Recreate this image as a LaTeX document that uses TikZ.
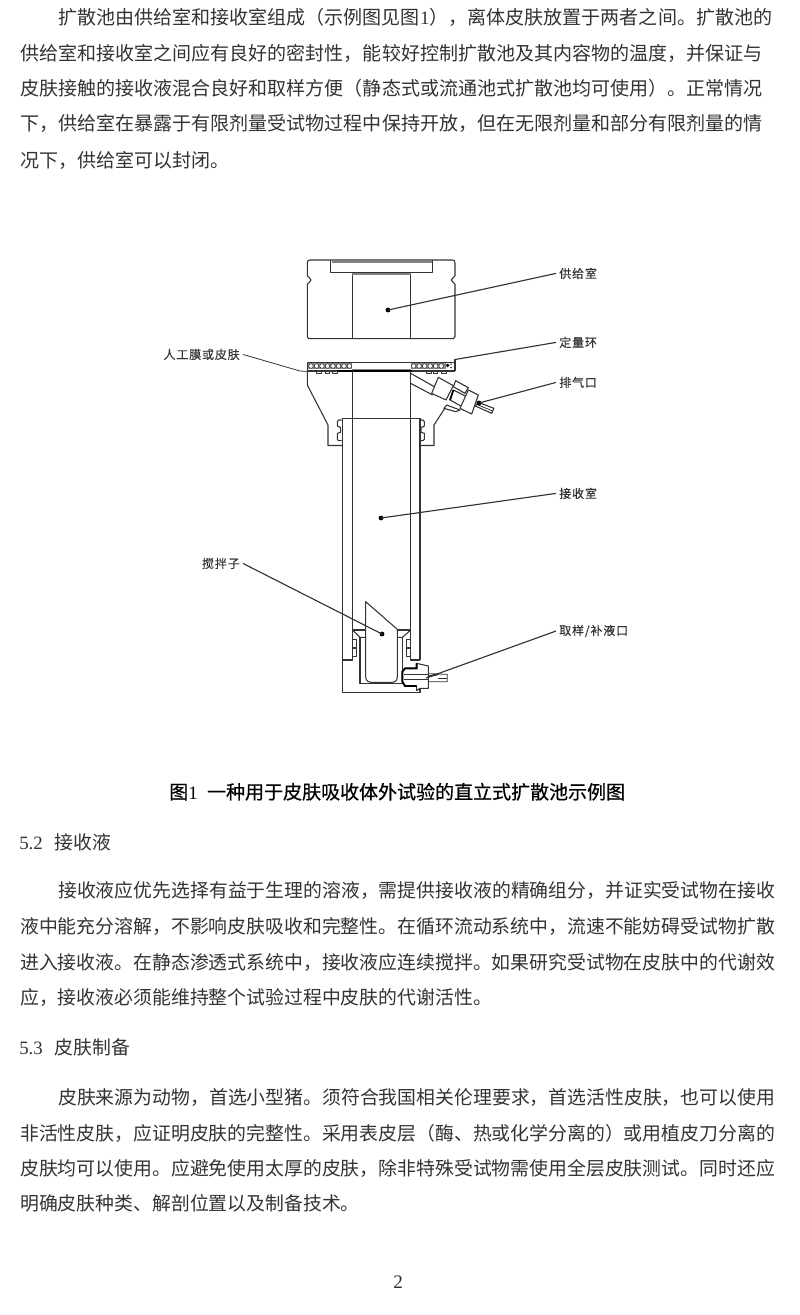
\documentclass[tikz,border=0pt]{standalone}
\usepackage{fontspec}
\setmainfont{Noto Sans CJK SC}
\newfontfamily\latn{Liberation Serif}
\newfontfamily\capf[RawFeature={embolden=0.6}]{Noto Sans CJK SC}
\newfontfamily\lab[LetterSpace=7,RawFeature={embolden=0.25}]{Noto Sans CJK SC}
\definecolor{ink}{gray}{0.2}
\definecolor{drw}{gray}{0.2}
\tikzset{
  bodytxt/.style={anchor=base west,inner sep=0pt,text=ink,font=\fontsize{14.15pt}{16pt}\selectfont},
  firsttxt/.style={anchor=base west,inner sep=0pt,text=ink,font=\fontsize{14.28pt}{16pt}\selectfont},
  captxt/.style={anchor=base west,inner sep=0pt,text=black,font=\capf\fontsize{14.25pt}{16pt}\selectfont},
  labr/.style={anchor=base west,inner xsep=2.25pt,inner ysep=0pt,text=ink,font=\lab\fontsize{9pt}{10pt}\selectfont},
  labl/.style={anchor=base east,inner xsep=2.25pt,inner ysep=0pt,text=ink,font=\lab\fontsize{9pt}{10pt}\selectfont},
  part/.style={draw=drw,line width=0.8pt,line join=round},
  thinpart/.style={draw=drw,line width=0.6pt,line join=round},
  leader/.style={draw=drw,line width=0.85pt},
  tipdot/.style={circle,fill=black,inner sep=0pt,minimum size=3.6pt},
  Zone/.style={shift={(280,240)},x=0.25pt,y=-0.25pt},
  Ztwo/.style={shift={(290,340)},x=0.25pt,y=-0.25pt},
  Zthr/.style={shift={(320,580)},x=0.25pt,y=-0.25pt},
  Zfou/.style={shift={(320,400)},x=0.25pt,y=-0.25pt}
}
\begin{document}
\begin{tikzpicture}[x=0.75pt,y=-0.75pt]
\path[use as bounding box,fill=white] (0,0) rectangle (800,1315);
% --- body text ---
\node[firsttxt] (p1) at (58,24.5) {扩散池由供给室和接收室组成（示例图见图{\latn 1}），离体皮肤放置于两者之间。扩散池的};
\node[firsttxt] (p2) at (20,60) {供给室和接收室之间应有良好的密封性，能较好控制扩散池及其内容物的温度，并保证与};
\node[firsttxt] (p3) at (20,95) {皮肤接触的接收液混合良好和取样方便（静态式或流通池式扩散池均可使用）。正常情况};
\node[firsttxt] (p4) at (20,130) {下，供给室在暴露于有限剂量受试物过程中保持开放，但在无限剂量和部分有限剂量的情};
\node[firsttxt] (p5) at (20,167) {况下，供给室可以封闭。};
\node[captxt] (cap) at (169,799) {图{\latn 1}\hspace{7pt}一种用于皮肤吸收体外试验的直立式扩散池示例图};
\node[bodytxt] (h2) at (19,849) {{\latn 5.2}\hspace{9pt}接收液};
\node[bodytxt] (q1) at (58,897) {接收液应优先选择有益于生理的溶液，需提供接收液的精确组分，并证实受试物在接收};
\node[bodytxt] (q2) at (20,933.5) {液中能充分溶解，不影响皮肤吸收和完整性。在循环流动系统中，流速不能妨碍受试物扩散};
\node[bodytxt] (q3) at (20,969.5) {进入接收液。在静态渗透式系统中，接收液应连续搅拌。如果研究受试物在皮肤中的代谢效};
\node[bodytxt] (q4) at (20,1004) {应，接收液必须能维持整个试验过程中皮肤的代谢活性。};
\node[bodytxt] (h3) at (19,1054) {{\latn 5.3}\hspace{9pt}皮肤制备};
\node[bodytxt] (r1) at (58,1104) {皮肤来源为动物，首选小型猪。须符合我国相关伦理要求，首选活性皮肤，也可以使用};
\node[bodytxt] (r2) at (20,1140) {非活性皮肤，应证明皮肤的完整性。采用表皮层（酶、热或化学分离的）或用植皮刀分离的};
\node[bodytxt] (r3) at (20,1175) {皮肤均可以使用。应避免使用太厚的皮肤，除非特殊受试物需使用全层皮肤测试。同时还应};
\node[bodytxt] (r4) at (20,1210) {明确皮肤种类、解剖位置以及制备技术。};
\node[bodytxt,font=\latn\fontsize{14.4pt}{16pt}\selectfont] (pg) at (393,1288) {2};
% --- donor chamber ---
\begin{scope}[Zone]
\draw[part] (90,60) .. controls (84,60) and (82,62) .. (82,70) -- (82,108) .. controls (82,112) and (93,112) .. (93,120) .. controls (93,128) and (82,128) .. (82,132) -- (82,290) -- (86,296) -- (520,296) -- (525,290) -- (525,132) .. controls (525,128) and (514,128) .. (514,120) .. controls (514,112) and (525,112) .. (525,108) -- (525,70) .. controls (525,62) and (523,60) .. (517,60) -- cycle;
\draw[part] (152,60) -- (152,98) -- (458,98) -- (458,60);
\draw[draw=gray,line width=0.9pt] (155,66) -- (455,66);
\draw[part] (217,99) -- (217,295) (392,99) -- (392,295);
\draw[draw=gray,line width=1.2pt] (217,102) -- (392,102);
% metering ring
\fill[gray!90] (84,368) rectangle (215,388);
\fill[gray!90] (392,368) rectangle (498,388);
\foreach \i in {0,...,7} {\draw[black!80,fill=white,line width=0.45pt] ({93+\i*16.5},378) circle (7);}
\foreach \i in {0,...,5} {\draw[black!80,fill=white,line width=0.45pt] ({401+\i*16.5},378) circle (7);}
\draw[part] (82,367) -- (525,367) (525,358) -- (525,393);
\draw[part] (82,367) -- (82,393) -- (525,393);
\draw[part,draw=gray] (217,388) -- (392,388);
\draw[draw=black,line width=1.7pt] (170,392) -- (395,392);
\fill[black] (503,376) circle (5.5);
\fill[black!70] (510,371) rectangle (516,374) (510,381) rectangle (516,384);
\foreach \a in {110,135,158,440,460,485} {\draw[thinpart] (\a,393) rectangle ++(13,7);}
\end{scope}
% --- receptor body ---
\draw[part] (307.3,371) -- (307.3,385) -- (328,425) -- (328,445.5) -- (342,445.5);
\draw[part] (445,408) -- (434,425) -- (434,445.5) -- (420,445.5);
\draw[part] (352.5,371) -- (352.5,660) -- (342.3,660);
\draw[part] (410.7,371) -- (410.7,660) -- (420,660);
\draw[part] (342.3,418.3) -- (342.3,692.7) -- (420,692.7) -- (420,689);
\draw[part] (420,418.3) -- (420,660);
\draw[part] (342.3,418.3) -- (420,418.3);
\begin{scope}[Zfou]
\draw[part] (65,60) -- (56,60) -- (52,65) -- (52,78) -- (62,83) -- (62,97) -- (52,100) -- (52,118) -- (56,122) -- (65,122);
\draw[part] (300,60) -- (309,60) -- (313,65) -- (313,78) -- (303,83) -- (303,97) -- (313,100) -- (313,118) -- (309,122) -- (300,122);
\end{scope}
% --- stir bar, cup and sampling port ---
\begin{scope}[Zthr]
\draw[part] (137,65) -- (232,148) -- (232,290) .. controls (232,302) and (225,307) .. (215,307) -- (155,307) .. controls (145,307) and (137,302) .. (137,290) -- cycle;
\draw[part] (98,150) -- (137,150) (232,150) -- (272,150);
\draw[part] (98,150) -- (120,172) -- (137,172) (272,150) -- (247,172) -- (232,172);
\draw[part] (120,172) -- (120,310) -- (247,310) -- (247,172);
\draw[thinpart] (98,178) -- (110,178) -- (110,203) -- (98,203) (98,206) -- (110,206) -- (110,228) -- (98,228);
\draw[thinpart] (272,178) -- (258,178) -- (258,203) -- (272,203) (272,206) -- (258,206) -- (258,228) -- (272,228);
\draw[part,fill=white] (255,265) -- (290,265) -- (290,250) -- (325,258) -- (325,325) -- (300,325) -- (290,332) -- (290,318) -- (255,318) -- (247,305) -- (247,275) -- cycle;
\draw[draw=black,line width=1.4pt] (290,250) -- (290,265) -- (255,265) -- (247,275) -- (247,305) -- (255,318) -- (290,318);
\draw[thinpart] (252,283) -- (325,283) (252,298) -- (325,298);
\draw[thinpart] (325,281) -- (382,283) -- (382,305) -- (325,305);
\draw[draw=black,line width=1.3pt] (325,290) -- (355,282);
\draw[thinpart] (355,295) -- (382,295);
\end{scope}
% --- vent fitting ---
\begin{scope}[Ztwo]
\draw[part] (362,100) -- (447,148) (362,130) -- (428,165);
\draw[part] (490,150) -- (540,175) -- (525,205) -- (480,180) -- cycle;
\draw[part,fill=white] (445,112) -- (490,137) -- (468,180) -- (425,160) -- cycle;
\draw[part,fill=white] (497,122) -- (535,143) -- (525,160) -- (490,140) -- cycle;
\draw[part,fill=white] (535,150) -- (565,165) -- (545,222) -- (510,205) -- cycle;
\draw[part,fill=white] (470,195) -- (510,210) -- (497,215) -- (462,205) -- cycle;
\draw[part,fill=white] (565,187) -- (612,205) -- (605,220) -- (556,198) -- cycle;
\draw[thinpart] (560,193) -- (608,213);
\draw[draw=black,line width=1.3pt] (490,150) -- (480,180);
\end{scope}
% --- labels ---
\node[labr] (gong) at (556,278) {供给室};
\node[labr] (ding) at (556,347) {定量环};
\node[labr] (pai) at (556,387) {排气口};
\node[labr] (jie) at (556,498) {接收室};
\node[labr] (qu) at (556,635) {取样/补液口};
\node[labl] (ren) at (243,359) {人工膜或皮肤};
\node[labl] (jiao) at (243,568) {搅拌子};
% --- leader ends ---
\node[tipdot] (dgong) at (388,310) {};
\node[tipdot] (dpai) at (479,403) {};
\node[tipdot] (djie) at (381,518) {};
\node[tipdot] (djiao) at (382,634) {};
\coordinate (ring) at (455,359.5);
\coordinate (memb) at (300,371);
\coordinate (membb) at (310,371.5);
\coordinate (port) at (426,678);
\draw[leader] (gong.west) -- (dgong.center);
\draw[leader] (ding.west) -- (ring);
\draw[leader] (pai.west) -- (dpai.center);
\draw[leader] (jie.west) -- (djie.center);
\draw[leader] (qu.west) -- (port);
\draw[leader,line width=0.6pt] (ren.east) -- (memb) -- (membb);
\draw[leader] (jiao.east) -- (djiao.center);
\end{tikzpicture}
\end{document}
